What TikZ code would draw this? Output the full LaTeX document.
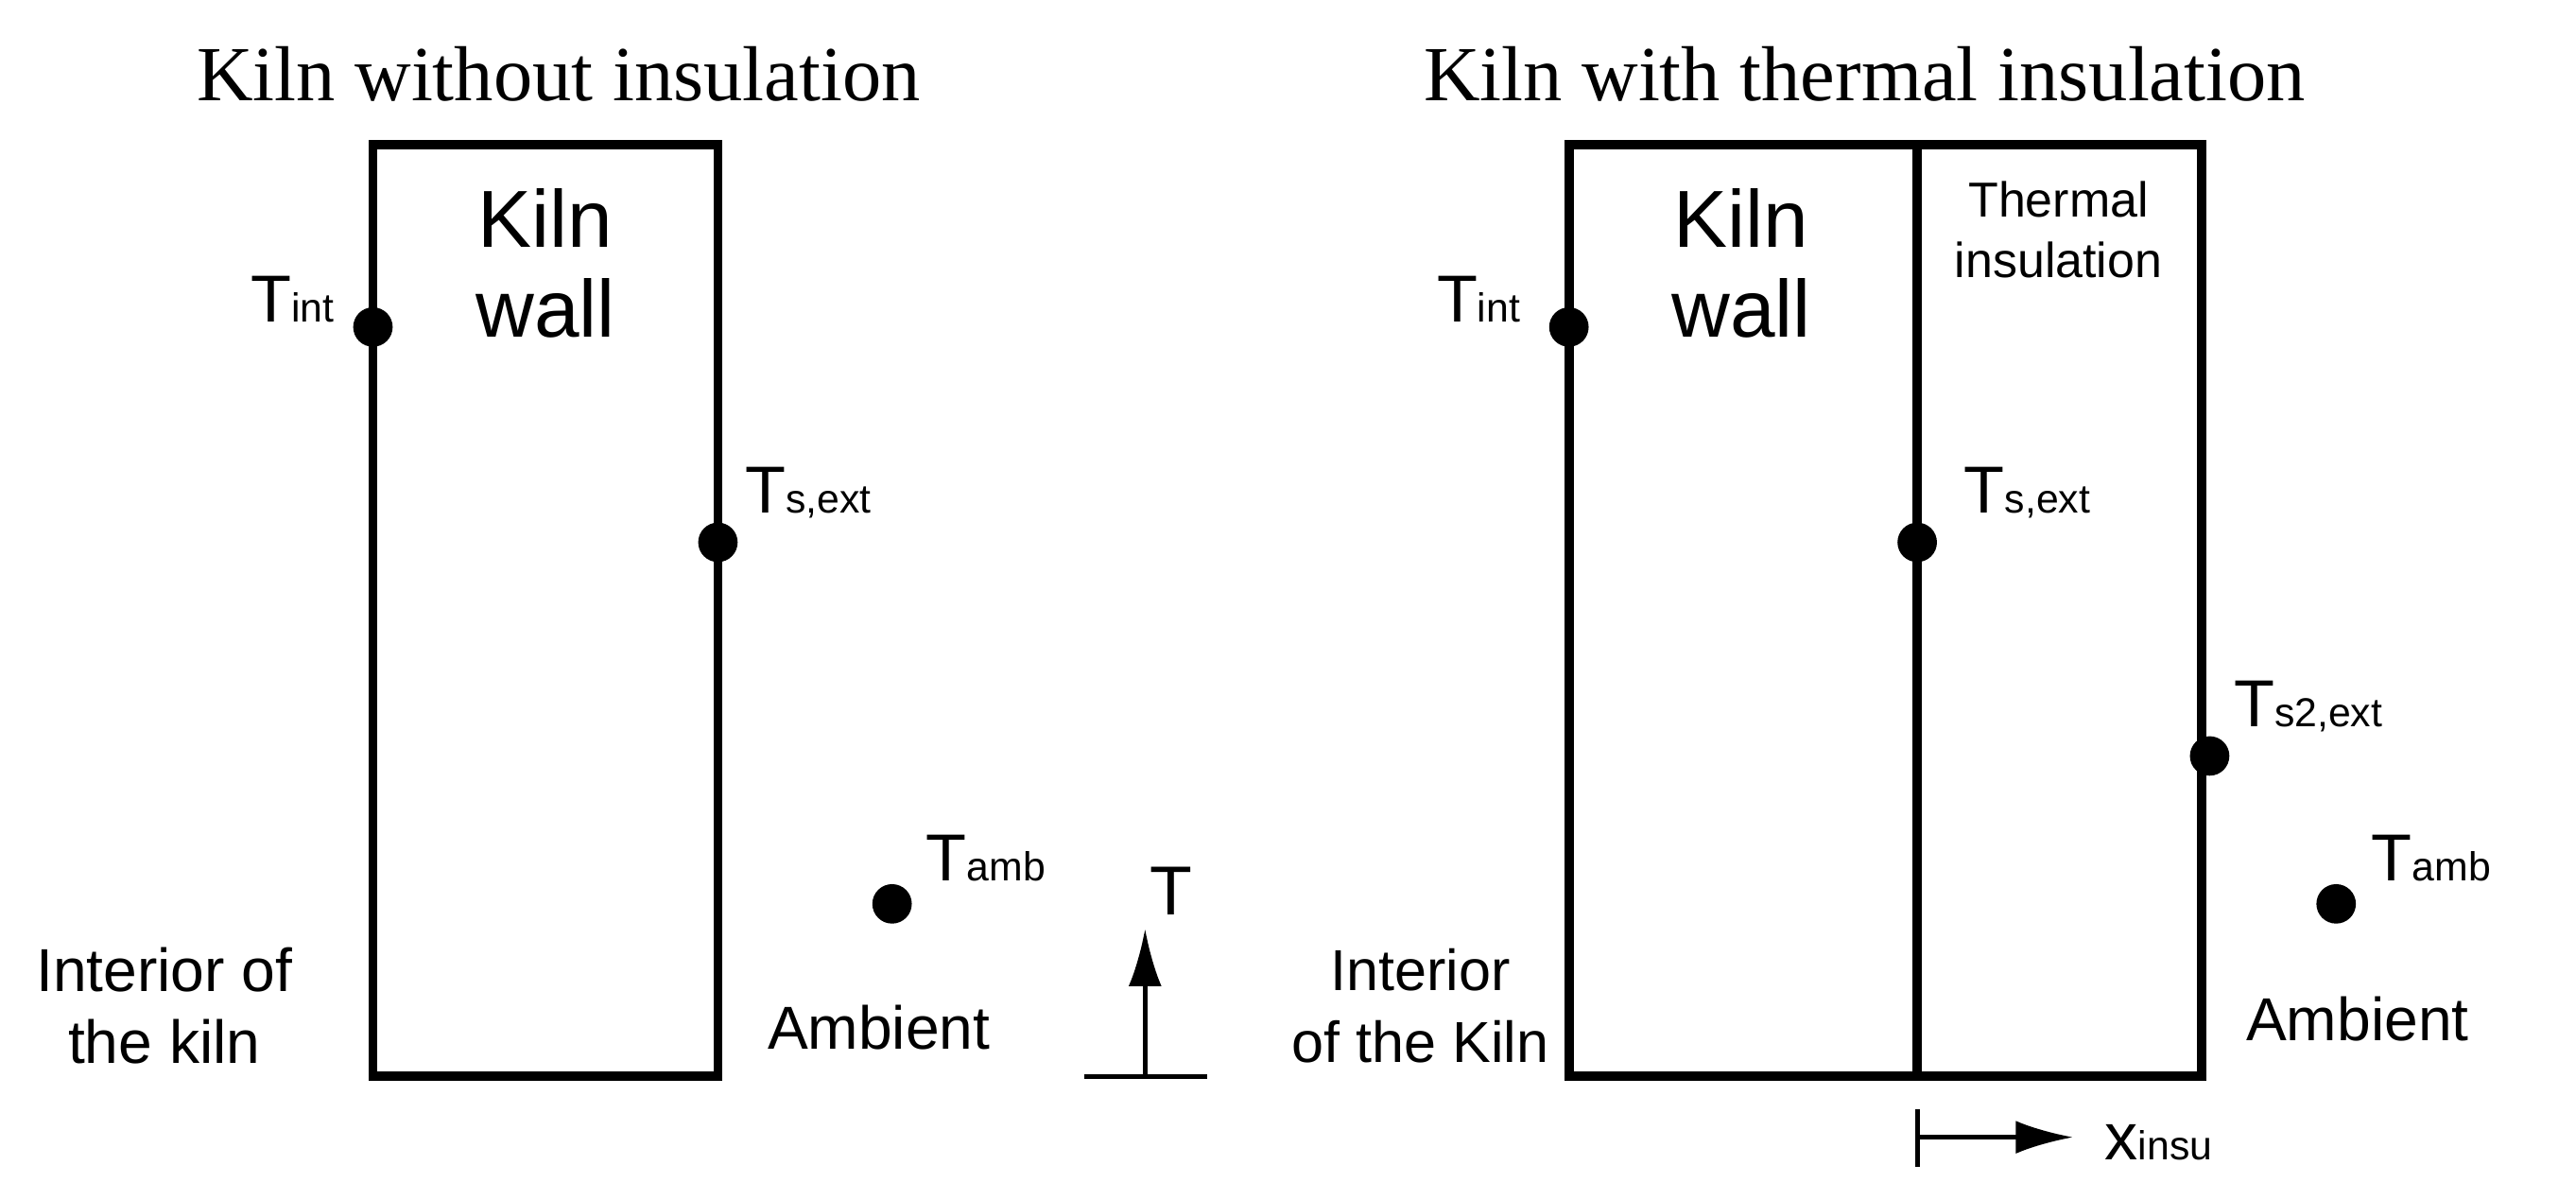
\documentclass[tikz,border=0pt]{standalone}
\usepackage{fontspec}
\setmainfont{Liberation Serif}
\newfontfamily\labelfont{Liberation Sans}
\usetikzlibrary{positioning}
\tikzset{wall/.style={line width=1.6pt},
  pt/.style={circle,fill=black,inner sep=0pt,minimum size=0.24cm},
  lbl/.style={font=\labelfont\fontsize{10.5}{12.5}\selectfont,align=center},
  ttl/.style={font=\fontsize{13.5}{15}\selectfont},
  big/.style={font=\labelfont\fontsize{14}{15.5}\selectfont,align=center},
  arrow/.style={line width=0.8pt,-{Latex[length=0.35cm,width=0.2cm]}}}
\usetikzlibrary{arrows.meta}
\newcommand{\tsub}[2]{T{\fontsize{7}{8}\selectfont #1}}
\begin{document}
\begin{tikzpicture}[x=0.01cm,y=-0.01cm]
\useasboundingbox (0,0) rectangle (1568,730);
% left kiln
\node[ttl] (t1) at (340,45) {Kiln without insulation};
\draw[wall] (227,88) rectangle (437,655);
\node[big] (w1) at (332,160) {Kiln\\wall};
\node[pt] (a1) at (227,199) {};
\node[lbl,font=\labelfont\fontsize{11.5}{12}\selectfont] at (178,182) {\tsub{int}{}};
\node[pt] (b1) at (437,330) {};
\node[lbl,font=\labelfont\fontsize{11.5}{12}\selectfont] at (492,300) {\tsub{s,ext}{}};
\node[pt] (c1) at (543,550) {};
\node[lbl,font=\labelfont\fontsize{11.5}{12}\selectfont] at (600,522) {\tsub{amb}{}};
\node[lbl] at (100,612) {Interior of\\the kiln};
\node[lbl] at (535,625) {Ambient};
% T axis
\coordinate (g0) at (660,655); \coordinate (g1) at (735,655);
\coordinate (ta) at (697,655); \coordinate (tb) at (697,565);
\draw[line width=0.8pt] (g0) -- (g1);
\draw[arrow] (ta) -- (tb);
\node[lbl,font=\labelfont\fontsize{12}{13}\selectfont] at (713,542) {T};
% right kiln
\node[ttl] (t2) at (1135,45) {Kiln with thermal insulation};
\draw[wall] (955,88) rectangle (1340,655);
\draw[wall] (1167,88) -- (1167,655);
\node[big] (w2) at (1060,160) {Kiln\\wall};
\node[lbl,font=\labelfont\fontsize{8.5}{10.5}\selectfont] (ins) at (1253,140) {Thermal\\insulation};
\node[pt] (a2) at (955,199) {};
\node[lbl,font=\labelfont\fontsize{11.5}{12}\selectfont] at (900,182) {\tsub{int}{}};
\node[pt] (b2) at (1167,330) {};
\node[lbl,font=\labelfont\fontsize{11.5}{12}\selectfont] at (1234,300) {\tsub{s,ext}{}};
\node[pt] (d2) at (1345,460) {};
\node[lbl,font=\labelfont\fontsize{11.5}{12}\selectfont] at (1405,430) {\tsub{s2,ext}{}};
\node[pt] (c2) at (1422,550) {};
\node[lbl,font=\labelfont\fontsize{11.5}{12}\selectfont] at (1480,522) {\tsub{amb}{}};
\node[lbl,font=\labelfont\fontsize{10}{12.5}\selectfont,anchor=east,inner sep=1pt] at (947,612) {Interior\\of the Kiln};
\node[lbl] at (1435,620) {Ambient};
% x axis
\coordinate (xa) at (1167,692); \coordinate (xb) at (1262,692);
\draw[line width=0.8pt] (1167,675) -- (1167,710);
\draw[arrow] (xa) -- (xb);
\node[lbl,font=\labelfont\fontsize{11.5}{12}\selectfont] at (1314,695) {x{\fontsize{7}{8}\selectfont insu}};
\end{tikzpicture}
\end{document}
